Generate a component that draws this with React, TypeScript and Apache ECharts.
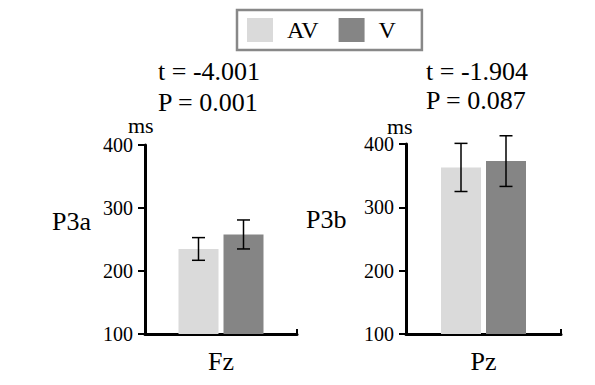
import React, { useEffect, useRef } from "react";
import * as echarts from "echarts";

const seriesNames = ["AV", "V"];
const panelCategories = ["Fz", "Pz"];
const panelTitles = ["P3a", "P3b"];
const avMeans = [235, 363];
const vMeans = [258, 373];
const avErrors = [18, 38];
const vErrors = [23, 40];
const tValues = ["-4.001", "-1.904"];
const pValues = ["0.001", "0.087"];
const yTicks = { min: 100, max: 400, interval: 100 };

const FONT = "'Liberation Serif', 'Times New Roman', serif";
const COLORS = ["#dadada", "#858585"];
const BAR_W = 40;
const BAR_GAP = 5;

export default function App() {
  const ref = useRef<HTMLDivElement>(null);
  useEffect(() => {
    if (!ref.current) return;
    const chart = echarts.init(ref.current, undefined, { renderer: "svg" });
    const grids = [
      { left: 145, top: 145, width: 152, height: 189 },
      { left: 406, top: 144, width: 155, height: 190 },
    ];
    const means = [avMeans, vMeans];
    const errs = [avErrors, vErrors];
    const series: any[] = [];
    [0, 1].forEach((p) => {
      [0, 1].forEach((s) => {
        series.push({
          name: seriesNames[s],
          type: "bar",
          xAxisIndex: p,
          yAxisIndex: p,
          barWidth: BAR_W,
          barGap: (BAR_GAP / BAR_W) * 100 + "%",
          itemStyle: { color: COLORS[s] },
          data: [means[s][p]],
        });
      });
      series.push({
        type: "custom",
        xAxisIndex: p,
        yAxisIndex: p,
        clip: false,
        z: 10,
        data: [0, 1].map((s) => [0, means[s][p] - errs[s][p], means[s][p] + errs[s][p], s]),
        renderItem: (params: any, api: any) => {
          const lo = api.coord([api.value(0), api.value(1)]);
          const hi = api.coord([api.value(0), api.value(2)]);
          const s = api.value(3);
          const x = lo[0] + (s === 0 ? -1 : 1) * (BAR_W + BAR_GAP) / 2;
          const cap = 6.5;
          const style = { stroke: "#000", lineWidth: 1.5 };
          return {
            type: "group",
            children: [
              { type: "line", shape: { x1: x, y1: lo[1], x2: x, y2: hi[1] }, style },
              { type: "line", shape: { x1: x - cap, y1: lo[1], x2: x + cap, y2: lo[1] }, style },
              { type: "line", shape: { x1: x - cap, y1: hi[1], x2: x + cap, y2: hi[1] }, style },
            ],
          };
        },
      });
    });

    const textStyle = (size: number) => ({ fill: "#000", font: `${size}px ${FONT}` });

    chart.setOption({
      animation: false,
      textStyle: { fontFamily: FONT },
      legend: {
        data: seriesNames,
        left: 237,
        top: 10,
        orient: "horizontal",
        icon: "rect",
        itemWidth: 26,
        itemHeight: 24,
        itemGap: 20,
        padding: [8, 26, 8, 10],
        borderColor: "#888",
        borderWidth: 2.5,
        textStyle: { fontSize: 24, color: "#000", fontFamily: FONT, padding: [0, 0, 0, 9] },
        selectedMode: false,
      },
      grid: grids,
      xAxis: [0, 1].map((p) => ({
        type: "category",
        gridIndex: p,
        data: [panelCategories[p]],
        axisLine: { lineStyle: { color: "#000", width: 3 } },
        axisTick: { show: true, inside: true, length: 5, lineStyle: { color: "#000", width: 2 } },
        axisLabel: { fontSize: 26, color: "#000", fontFamily: FONT, margin: 14 },
      })),
      yAxis: [0, 1].map((p) => ({
        type: "value",
        gridIndex: p,
        min: yTicks.min,
        max: yTicks.max,
        interval: yTicks.interval,
        splitLine: { show: false },
        axisLine: { show: true, lineStyle: { color: "#000", width: 3 } },
        axisTick: { show: true, length: 7, lineStyle: { color: "#000", width: 2 } },
        axisLabel: { fontSize: 20, color: "#000", fontFamily: FONT, margin: 12 },
      })),
      graphic: [
        { type: "text", left: 158, top: 58, style: { text: `t = ${tValues[0]}`, ...textStyle(26) } },
        { type: "text", left: 158, top: 89, style: { text: `P = ${pValues[0]}`, ...textStyle(26) } },
        { type: "text", left: 426, top: 58, style: { text: `t = ${tValues[1]}`, ...textStyle(26) } },
        { type: "text", left: 426, top: 87, style: { text: `P = ${pValues[1]}`, ...textStyle(26) } },
        { type: "text", left: 52, top: 208, style: { text: panelTitles[0], ...textStyle(26) } },
        { type: "text", left: 306, top: 206, style: { text: panelTitles[1], ...textStyle(26) } },
        { type: "text", left: 128, top: 114, style: { text: "ms", ...textStyle(22) } },
        { type: "text", left: 387, top: 115, style: { text: "ms", ...textStyle(22) } },
      ],
      series,
    });
    return () => chart.dispose();
  }, []);
  return (
    <div
      ref={ref}
      style={{ position: "fixed", left: 0, top: 0, width: 595, height: 385, background: "#fff" }}
    />
  );
}
